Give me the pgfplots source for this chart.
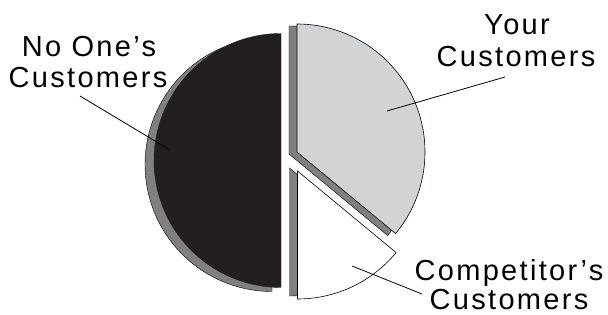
\documentclass[border=0pt]{standalone}
\usepackage{pgfplots}
\pgfplotsset{compat=1.18}
\usepackage{pgfplotstable}
\usepackage{fontspec}
\setmainfont{Liberation Sans}[LetterSpace=8]
\definecolor{darkface}{HTML}{231F20}
\definecolor{sidegray}{HTML}{808080}
\definecolor{lightface}{HTML}{D1D3D4}

\pgfplotstableread{
label value
Your 36
Competitor 14
NoOne 50
}\piedata
\pgfplotstablegetelem{0}{value}\of\piedata \let\vYour\pgfplotsretval
\pgfplotstablegetelem{1}{value}\of\piedata \let\vComp\pgfplotsretval
\pgfplotstablegetelem{2}{value}\of\piedata \let\vNone\pgfplotsretval
\pgfmathsetmacro\aYour{90-3.6*\vYour}
\pgfmathsetmacro\aComp{\aYour-3.6*\vComp}
\pgfmathsetmacro\aNone{90+3.6*\vNone}

\begin{document}
\begin{tikzpicture}
\begin{axis}[
  scale only axis, width=608pt, height=315pt,
  xmin=0, xmax=608, ymin=0, ymax=315,
  hide axis, clip=false,
  samples=120, variable=\t,
]
% ---- side faces (shadows)
\addplot[fill=sidegray, draw=black, line width=0.4pt, domain=90:\aNone]
  ({272+127*cos(t)}, {150.5+127*sin(t)}) -- (axis cs:272,150.5) -- cycle;
\addplot[fill=sidegray, draw=black, line width=0.4pt, domain=\aYour:90]
  ({289+128*cos(t)}, {161+128*sin(t)}) -- (axis cs:289,161) -- cycle;
\addplot[fill=sidegray, draw=black, line width=0.4pt, domain=\aComp:\aYour]
  ({289.5+128*cos(t)}, {147+128*sin(t)}) -- (axis cs:289.5,147) -- cycle;
% ---- top faces
\addplot[fill=darkface, draw=darkface, line width=0.4pt, domain=90:\aNone]
  ({281+127*cos(t)}, {154.5+127*sin(t)}) -- (axis cs:281,154.5) -- cycle;
\addplot[fill=lightface, draw=black, line width=0.6pt, domain=\aYour:90]
  ({297+128*cos(t)}, {163+128*sin(t)}) -- (axis cs:297,163) -- cycle;
\addplot[fill=white, draw=black, line width=0.6pt, domain=\aComp:\aYour]
  ({297.5+128*cos(t)}, {144+128*sin(t)}) -- (axis cs:297.5,144) -- cycle;
% ---- leader lines
\addplot[black, line width=0.8pt] coordinates {(80,219) (170,165)};
\addplot[black, line width=0.8pt] coordinates {(387,204) (505,238)};
\addplot[black, line width=0.8pt] coordinates {(352,49) (422,21)};
% ---- labels
\node[anchor=base, font=\fontsize{29}{31}\selectfont, inner sep=0pt] at (axis cs:517,280) {Your};
\node[anchor=base, font=\fontsize{29}{31}\selectfont, inner sep=0pt] at (axis cs:516,248) {Customers};
\node[anchor=base, font=\fontsize{29}{31}\selectfont, inner sep=0pt] at (axis cs:89,258) {No One’s};
\node[anchor=base, font=\fontsize{29}{31}\selectfont, inner sep=0pt] at (axis cs:88,227) {Customers};
\node[anchor=base, font=\fontsize{29}{31}\selectfont, inner sep=0pt] at (axis cs:509,34) {Competitor’s};
\node[anchor=base, font=\fontsize{29}{31}\selectfont, inner sep=0pt] at (axis cs:509,5) {Customers};
\end{axis}
\pgfresetboundingbox
\path (current axis.south west) rectangle (current axis.north east);
\end{tikzpicture}
\end{document}
